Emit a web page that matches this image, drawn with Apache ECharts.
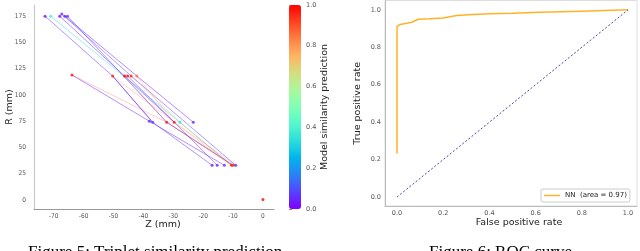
<!DOCTYPE html>
<html><head><meta charset="utf-8">
<script src="https://cdn.jsdelivr.net/npm/echarts@6/dist/echarts.min.js"></script>
<style>html,body{margin:0;padding:0;background:#fff}#c{width:640px;height:251px}</style>
</head><body><div id="c"></div>
<script>
// ---- Figure 5: hits (Z, R in mm) and their predictions ----
const hitZ = [-72.9, -71.0, -68.0, -67.3, -66.3, -65.4,
              -63.9, -50.3, -46.3, -45.3, -44.1, -42.2,
              -38.0, -36.9, -32.2, -29.7, -27.8, -23.3,
              -17.0, -15.3, -12.9, -10.5, -9.9, -9.1,
              0.0];
const hitR = [175, 175, 175, 177, 175, 175,
              119, 118, 118, 118, 118, 118,
              75, 74, 74, 74, 74, 74,
              33, 33, 33, 33, 33, 33,
              0.5];
const hitP = [0.02, 0.38, 0.03, 0.05, 0.04, 0.06,
              0.98, 0.97, 1.0, 0.99, 0.96, 0.86,
              0.05, 0.08, 0.98, 0.97, 0.35, 0.06,
              0.04, 0.05, 0.06, 0.99, 0.95, 0.07,
              1.0];
// triplets: indices into the hit arrays, and their predicted similarity
const tripletHits = [[0, 7, 13], [7, 13, 18], [1, 16, 21], [2, 8, 15], [3, 10, 23],
                     [4, 11, 17], [5, 14, 22], [6, 12, 20], [9, 15, 19],
                     [6, 14, 21], [7, 15, 21], [8, 14, 22], [10, 16, 21], [11, 15, 23]];
const tripletP = [0.06, 0.05, 0.35, 0.04, 0.08, 0.03, 0.07, 0.05, 0.06,
                  0.97, 0.92, 0.95, 0.88, 0.9];
const zTicks = [-70, -60, -50, -40, -30, -20, -10, 0];
const rTicks = [0, 25, 50, 75, 100, 125, 150, 175];
const cbTicks = [0.0, 0.2, 0.4, 0.6, 0.8, 1.0];

// ---- Figure 6: ROC ----
const fpr = [0, 0, 0.004, 0.013, 0.042, 0.064, 0.092, 0.143, 0.2, 0.258, 0.33, 0.4, 0.5, 0.62, 0.8, 1.0];
const tpr = [0.233, 0.911, 0.918, 0.922, 0.929, 0.934, 0.95, 0.952, 0.956, 0.97, 0.975, 0.979, 0.982, 0.987, 0.993, 1.0];
const chanceX = [0, 1];
const chanceY = [0, 1];
const rocTicks = [0.0, 0.2, 0.4, 0.6, 0.8, 1.0];
const rocLabel = 'NN  (area = 0.97)';

function rainbow(x) {
  const c = v => Math.round(Math.max(0, Math.min(1, v)) * 255);
  const r = c(Math.abs(2 * x - 0.5)), g = c(Math.sin(Math.PI * x)), b = c(Math.cos(Math.PI * x / 2));
  return 'rgb(' + r + ',' + g + ',' + b + ')';
}
const stops = [];
for (let i = 0; i <= 20; i++) stops.push(rainbow(i / 20));

const tickFont = {fontFamily: 'DejaVu Sans', fontSize: 6.5, color: '#555'};
const leftTickFont = {fontFamily: 'DejaVu Sans Condensed, DejaVu Sans', fontSize: 6.5, color: '#555'};
const nameFont = {fontFamily: 'DejaVu Sans', fontSize: 9.5, color: '#222'};

const series = [];
series.push({
  type: 'scatter', xAxisIndex: 0, yAxisIndex: 0, symbol: 'circle', symbolSize: 3, z: 5,
  data: hitZ.map((z, i) => [z, hitR[i], hitP[i]]), silent: true
});
tripletHits.forEach((t, k) => {
  const p = tripletP[k];
  series.push({
    type: 'line', xAxisIndex: 0, yAxisIndex: 0, symbol: 'none', silent: true, z: 2,
    data: t.map(i => [hitZ[i], hitR[i]]),
    lineStyle: {color: rainbow(p), width: 1, opacity: p > 0.7 ? 0.22 : 0.5}
  });
});
series.push({
  type: 'line', name: rocLabel, xAxisIndex: 2, yAxisIndex: 2, symbol: 'none', silent: true,
  data: fpr.map((f, i) => [f, tpr[i]]),
  lineStyle: {color: '#ffa500', width: 1.5, opacity: 0.85}, itemStyle: {color: '#ffb733'}
});
series.push({
  type: 'line', name: 'chance', xAxisIndex: 2, yAxisIndex: 2, symbol: 'none', silent: true,
  data: chanceX.map((x, i) => [x, chanceY[i]]),
  lineStyle: {color: '#1a1a90', width: 1, type: [2, 2], opacity: 0.8}
});

const chart = echarts.init(document.getElementById('c'), null, {renderer: 'canvas'});
chart.setOption({
  animation: false,
  grid: [
    {left: 34, top: 5, width: 240, height: 204},
    {left: 289, top: 5, width: 12, height: 204},
    {left: 385, top: 0.5, width: 252, height: 205.5, show: true, borderColor: '#ddd', borderWidth: 1}
  ],
  xAxis: [
    {gridIndex: 0, type: 'value', min: -76.6, max: 3.7, splitLine: {show: false},
     axisLine: {onZero: false, lineStyle: {color: '#999', width: 1}}, axisTick: {show: false},
     axisLabel: Object.assign({customValues: zTicks, margin: 4}, leftTickFont),
     name: 'Z (mm)', nameLocation: 'middle', nameGap: 11, nameMoveOverlap: false,
     nameTextStyle: Object.assign({padding: [0, 0, 0, 18]}, nameFont)},
    {gridIndex: 1, type: 'value', min: 0, max: 1, show: false},
    {gridIndex: 2, type: 'value', min: -0.052, max: 1.039, splitLine: {show: false},
     axisLine: {onZero: false, lineStyle: {color: '#bbb', width: 1}}, axisTick: {show: false},
     axisLabel: Object.assign({customValues: rocTicks, margin: 4, formatter: v => v.toFixed(1)}, tickFont),
     name: 'False positive rate', nameLocation: 'middle', nameGap: 12, nameMoveOverlap: false,
     nameTextStyle: Object.assign({padding: [0, 0, 0, 16]}, nameFont)}
  ],
  yAxis: [
    {gridIndex: 0, type: 'value', min: -8.6, max: 185.6, splitLine: {show: false},
     axisLine: {onZero: false, lineStyle: {color: '#ccc', width: 1.2}}, axisTick: {show: false},
     axisLabel: Object.assign({customValues: rTicks, margin: 8}, leftTickFont),
     name: 'R (mm)', nameLocation: 'middle', nameGap: 19, nameMoveOverlap: false, nameTextStyle: nameFont},
    {gridIndex: 1, type: 'value', min: 0, max: 1, position: 'right', splitLine: {show: false},
     axisLine: {show: false}, axisTick: {show: true, length: 3, lineStyle: {color: '#888'}, customValues: cbTicks},
     axisLabel: Object.assign({customValues: cbTicks, margin: 5, formatter: v => v.toFixed(1)}, tickFont),
     name: 'Model similarity prediction', nameLocation: 'middle', nameGap: 19, nameMoveOverlap: false, nameTextStyle: nameFont},
    {gridIndex: 2, type: 'value', min: -0.048, max: 1.05, splitLine: {show: false},
     axisLine: {onZero: false, lineStyle: {color: '#bbb', width: 1}}, axisTick: {show: false},
     axisLabel: Object.assign({customValues: rocTicks, margin: 4, formatter: v => v.toFixed(1)}, tickFont),
     name: 'True positive rate', nameLocation: 'middle', nameGap: 22.5, nameMoveOverlap: false, nameTextStyle: nameFont}
  ],
  visualMap: {
    type: 'continuous', min: 0, max: 1, dimension: 2, seriesIndex: 0,
    left: 289, top: 5, itemWidth: 12, itemHeight: 204, padding: 0,
    calculable: false, hoverLink: false, inRange: {color: stops}
  },
  legend: {
    data: [{name: rocLabel, icon: 'rect'}], left: 541, top: 189, itemWidth: 16, itemHeight: 1.5, itemGap: 4,
    padding: [3, 3, 3, 3], borderColor: '#ccc', borderWidth: 1, borderRadius: 2,
    textStyle: {fontFamily: 'DejaVu Sans', fontSize: 7, color: '#222'}, selectedMode: false
  },
  graphic: [
    {type: 'text', left: 28, top: 244, style: {text: 'Figure 5: Triplet similarity prediction', font: '17px "Liberation Serif"', fill: '#000'}},
    {type: 'text', left: 429, top: 244, style: {text: 'Figure 6: ROC curve', font: '17px "Liberation Serif"', fill: '#000'}}
  ],
  series: series
});
</script></body></html>
